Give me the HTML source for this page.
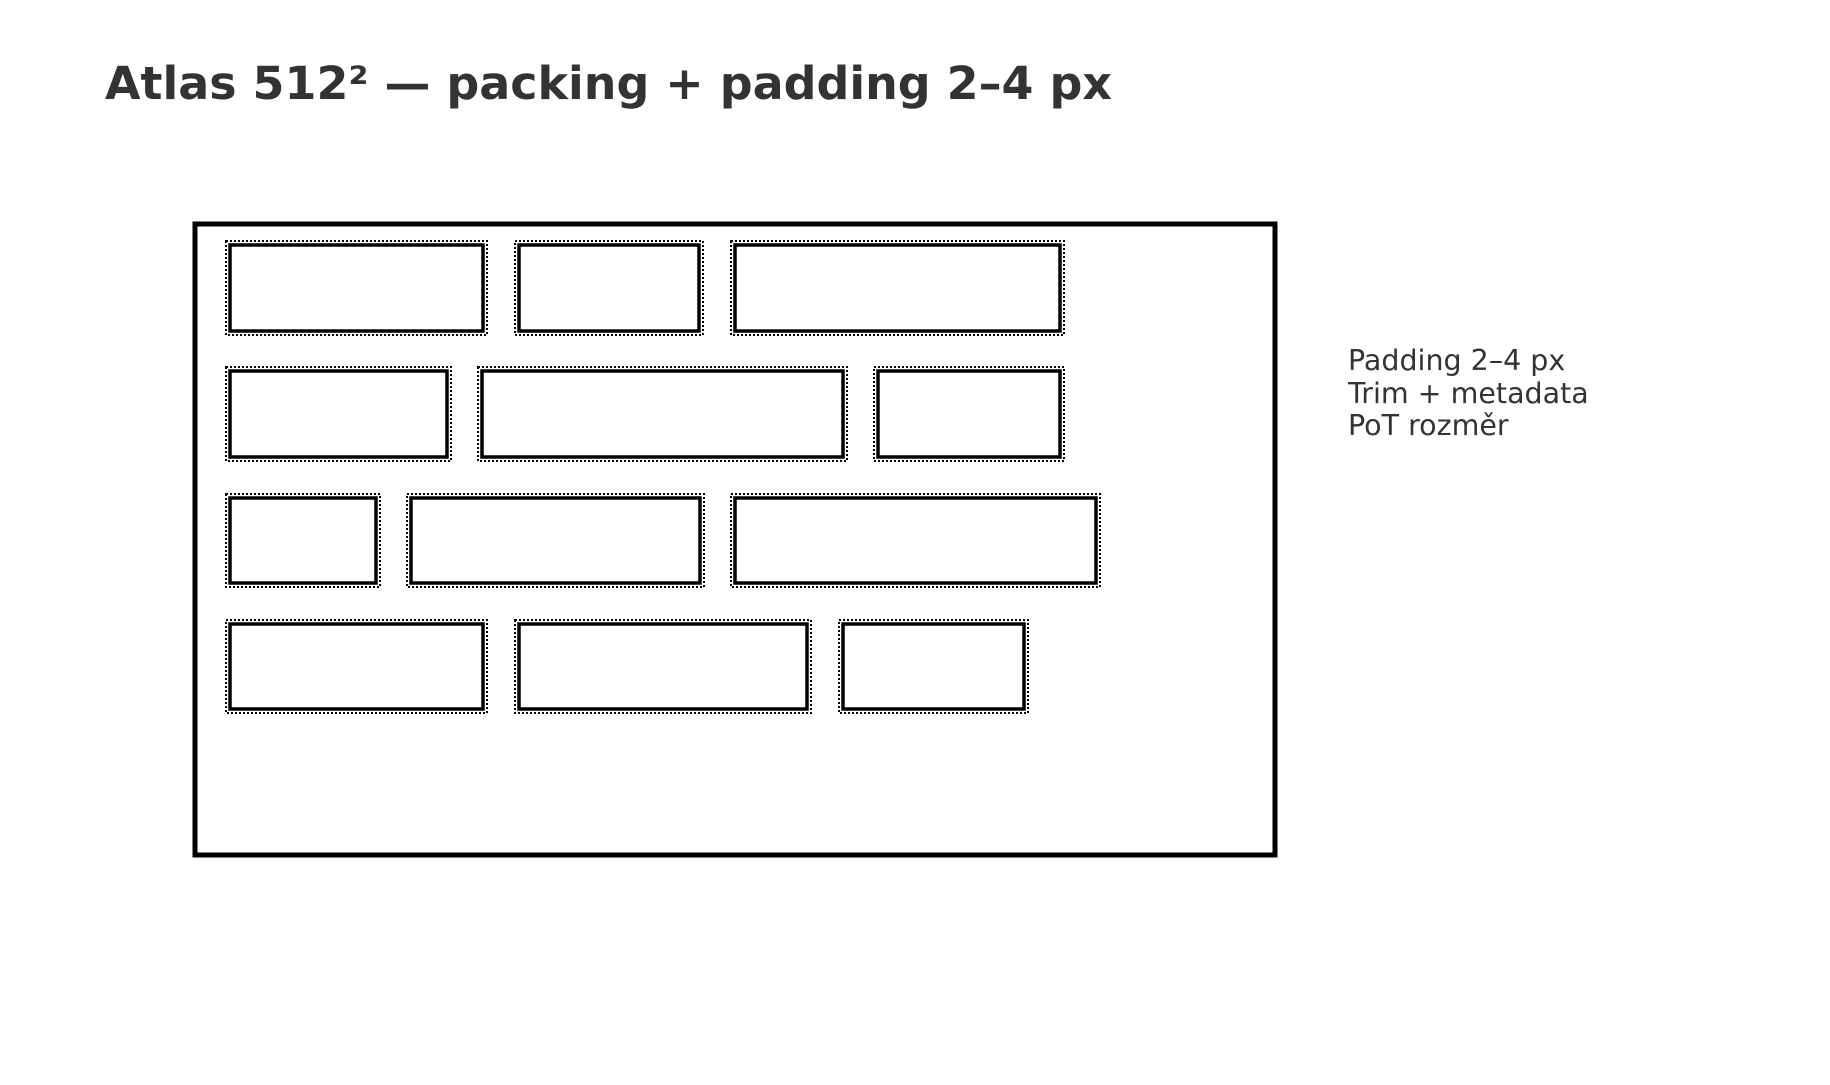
<!DOCTYPE html>
<html><head><meta charset="utf-8"><style>html,body{margin:0;padding:0;background:#fff}</style></head>
<body>
<svg width="1830" height="1080" viewBox="0 0 1830 1080" xmlns="http://www.w3.org/2000/svg">
<rect width="1830" height="1080" fill="#fff"/>
<text x="105" y="99" font-family="DejaVu Sans, sans-serif" font-weight="bold" font-size="45" fill="#333" textLength="1007" lengthAdjust="spacingAndGlyphs">Atlas 512² — packing + padding 2–4 px</text>
<rect x="195" y="224" width="1080" height="631" fill="none" stroke="#000" stroke-width="5"/>
<g fill="none" stroke="#000">
<g stroke-width="3.5">
<rect x="230" y="245" width="253" height="86"/>
<rect x="519" y="245" width="180" height="86"/>
<rect x="735" y="245" width="325" height="86"/>
<rect x="230" y="371" width="217" height="86"/>
<rect x="482" y="371" width="361" height="86"/>
<rect x="878" y="371" width="182" height="86"/>
<rect x="230" y="498" width="146" height="85"/>
<rect x="411" y="498" width="289" height="85"/>
<rect x="735" y="498" width="361" height="85"/>
<rect x="230" y="624" width="253" height="85"/>
<rect x="519" y="624" width="288" height="85"/>
<rect x="843" y="624" width="181" height="85"/>
</g>
<g stroke-width="2" stroke-dasharray="2 2">
<rect x="226" y="241" width="261" height="94"/>
<rect x="515" y="241" width="188" height="94"/>
<rect x="731" y="241" width="333" height="94"/>
<rect x="226" y="367" width="225" height="94"/>
<rect x="478" y="367" width="369" height="94"/>
<rect x="874" y="367" width="190" height="94"/>
<rect x="226" y="494" width="154" height="93"/>
<rect x="407" y="494" width="297" height="93"/>
<rect x="731" y="494" width="369" height="93"/>
<rect x="226" y="620" width="261" height="93"/>
<rect x="515" y="620" width="296" height="93"/>
<rect x="839" y="620" width="189" height="93"/>
</g>
</g>
<g font-family="DejaVu Sans, sans-serif" font-size="28.5" fill="#333">
<text x="1348" y="370">Padding 2–4 px</text>
<text x="1348" y="403">Trim + metadata</text>
<text x="1348" y="435">PoT rozměr</text>
</g>
</svg>
</body></html>
